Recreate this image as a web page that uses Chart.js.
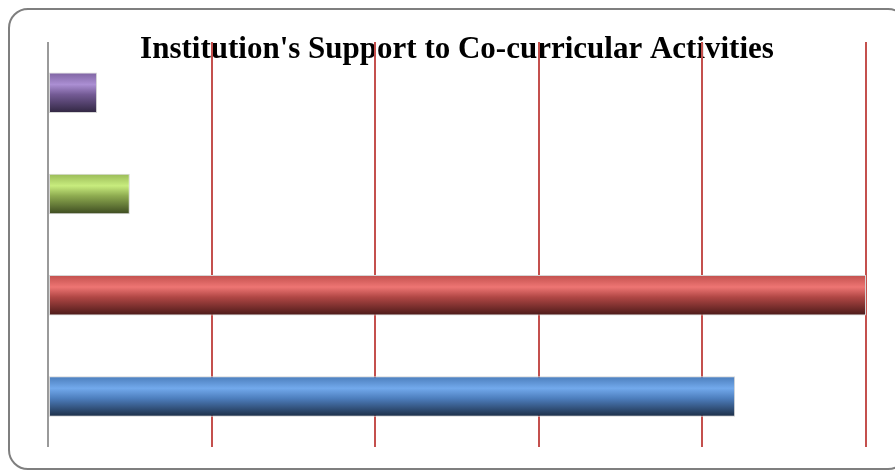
<!DOCTYPE html>
<html>
<head>
<meta charset="utf-8">
<script src="https://cdn.jsdelivr.net/npm/chart.js@4/dist/chart.umd.min.js"></script>
<style>
    html, body { margin: 0; padding: 0; background: #fff; overflow: hidden; }
    #frame {
        position: absolute; left: 8px; top: 8px; width: 900px; height: 462px;
        border: 2px solid #7f7f7f; border-radius: 20px; box-sizing: border-box;
    }
    #wrap { position: absolute; left: 0; top: 0; width: 895px; height: 473px; }
</style>
</head>
<body>
<div id="frame"></div>
<div id="wrap"><canvas id="chart"></canvas></div>
<script>
// 數據
const chartTitle = "Institution's Support to Co-curricular Activities";
const categories = ['Excellent', 'Good', 'Satisfactory', 'Poor'];
const values = [42, 50, 5, 3];
const axisMax = 50;
const axisStep = 10;

// 每條的漸層顏色 (上, 高光, 中, 下)
const barColors = [
    ['#4a7cba', '#72a9ec', '#4d7ebd', '#1c2d45'],
    ['#c04f4c', '#ee7573', '#b04745', '#4a1918'],
    ['#98b956', '#c8ec7e', '#8eab50', '#3c4a20'],
    ['#7d62a0', '#ab8fd3', '#735a94', '#302641']
];

function barGradient(ctx) {
    const chart = ctx.chart;
    const yScale = chart.scales.y;
    const c = barColors[ctx.dataIndex];
    if (!chart.chartArea || !yScale) return c[0];
    const center = yScale.getPixelForValue(ctx.dataIndex);
    const step = yScale.height / categories.length;
    const half = step * 0.8 * 0.5 / 2;
    const g = chart.ctx.createLinearGradient(0, center - half, 0, center + half);
    g.addColorStop(0, c[0]);
    g.addColorStop(0.3, c[1]);
    g.addColorStop(0.55, c[2]);
    g.addColorStop(1, c[3]);
    return g;
}

// 標題畫在網格線下面
const titlePlugin = {
    id: 'underTitle',
    beforeDraw(chart) {
        const ctx = chart.ctx;
        const area = chart.chartArea;
        ctx.save();
        ctx.font = 'bold 31px "Liberation Serif", serif';
        ctx.fillStyle = '#000';
        ctx.textAlign = 'center';
        ctx.textBaseline = 'alphabetic';
        ctx.fillText(chartTitle, (area.left + area.right) / 2, 58);
        ctx.restore();
    }
};

new Chart(document.getElementById('chart'), {
    type: 'bar',
    data: {
        labels: categories,
        datasets: [{
            data: values,
            backgroundColor: barGradient,
            borderColor: '#d6d6d6',
            borderWidth: 1,
            borderSkipped: false,
            categoryPercentage: 0.8,
            barPercentage: 0.5
        }]
    },
    options: {
        indexAxis: 'y',
        responsive: true,
        maintainAspectRatio: false,
        animation: false,
        layout: { padding: { left: 48, right: 29, top: 42, bottom: 26 } },
        plugins: {
            legend: { display: false },
            tooltip: { enabled: false }
        },
        scales: {
            x: {
                min: 0,
                max: axisMax,
                ticks: { display: false, stepSize: axisStep },
                grid: {
                    drawTicks: false,
                    lineWidth: 2,
                    color: ctx => ctx.index === 0 ? '#9a9a9a' : '#c4504d'
                },
                border: { display: false }
            },
            y: {
                reverse: true,
                ticks: { display: false },
                grid: { display: false, drawTicks: false },
                border: { display: false }
            }
        }
    },
    plugins: [titlePlugin]
});
</script>
</body>
</html>
